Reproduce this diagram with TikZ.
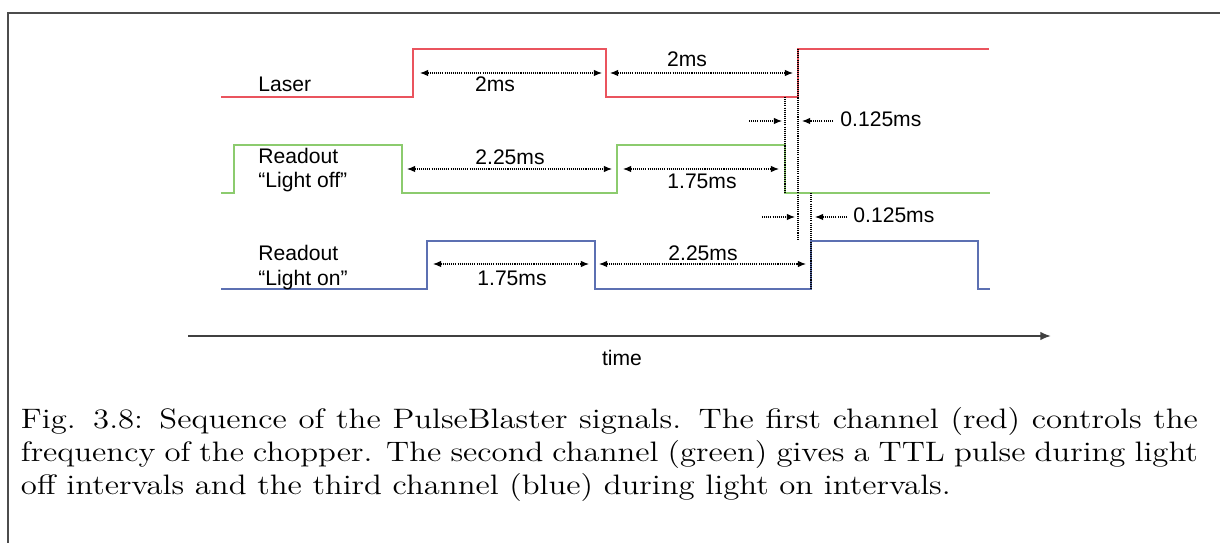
\documentclass[tikz,border=0pt]{standalone}
\usepackage{fontspec}
\newfontfamily\labelfont{Liberation Sans}
\newfontfamily\capfont{lmroman12-regular}[Extension=.otf, FakeStretch=1.165]
\usetikzlibrary{arrows.meta}
\definecolor{sigred}{RGB}{234,84,94}
\definecolor{siggreen}{RGB}{140,203,110}
\definecolor{sigblue}{RGB}{92,112,178}
\begin{document}
\begin{tikzpicture}[x=0.015cm, y=-0.015cm, font=\labelfont\fontsize{9}{10.8}\selectfont,
    >={Latex[length=3.5pt,width=2.8pt]},
    sig/.style={line width=0.85pt},
    dim/.style={line width=0.45pt, dash pattern=on 0.45pt off 0.45pt},
    mark line/.style={line width=0.45pt, dash pattern=on 0.45pt off 0.45pt},
    lab/.style={anchor=base west, inner sep=0pt},
    val/.style={anchor=base, inner sep=0pt},
    axis/.style={line width=0.75pt, black!75, -{Latex[length=4.5pt,width=3.6pt]}}]
  \useasboundingbox (0,0) rectangle (1220,543);
  \draw[black!70, line width=0.8pt] (8,543) -- (8,13) -- (1220,13);
  \draw[sig, sigred] (221,97) -- (413,97) -- (413,49) -- (606,49) -- (606,97) -- (798,97) -- (798,49) -- (989,49);
  \draw[sig, siggreen] (221,193) -- (234,193) -- (234,145) -- (402,145) -- (402,193) -- (617,193) -- (617,145) -- (785,145) -- (785,193) -- (990,193);
  \draw[sig, sigblue] (221,289) -- (427,289) -- (427,241) -- (595,241) -- (595,289) -- (811,289) -- (811,241) -- (978,241) -- (978,289) -- (990,289);
  \node[lab] (laser) at (258,92) {Laser};
  \node[lab] (offa) at (258,164) {Readout};
  \node[lab] (offb) at (258,188) {“Light off”};
  \node[lab] (ona) at (258,261) {Readout};
  \node[lab] (onb) at (258,286) {“Light on”};
  \coordinate (g1) at (785,97);  \coordinate (g2) at (785,193);
  \coordinate (r1) at (798,49);  \coordinate (r2) at (798,240);
  \coordinate (b1) at (811,193); \coordinate (b2) at (811,289);
  \draw[mark line] (g1) -- (g2);
  \draw[mark line] (r1) -- (r2);
  \draw[mark line] (b1) -- (b2);
  \coordinate (l1a) at (420,73); \coordinate (l1b) at (602,73);
  \coordinate (l2a) at (610,73); \coordinate (l2b) at (793,73);
  \coordinate (o1a) at (407,169); \coordinate (o1b) at (612,169);
  \coordinate (o2a) at (623,169); \coordinate (o2b) at (779,169);
  \coordinate (n1a) at (433,264); \coordinate (n1b) at (589,264);
  \coordinate (n2a) at (599,264); \coordinate (n2b) at (806,264);
  \draw[dim, <->] (l1a) -- (l1b);
  \draw[dim, <->] (l2a) -- (l2b);
  \draw[dim, <->] (o1a) -- (o1b);
  \draw[dim, <->] (o2a) -- (o2b);
  \draw[dim, <->] (n1a) -- (n1b);
  \draw[dim, <->] (n2a) -- (n2b);
  \node[val] (l1) at (495,92) {2ms};
  \node[val] (l2) at (687,67) {2ms};
  \node[val] (o1) at (510,165) {2.25ms};
  \node[val] (o2) at (702,189) {1.75ms};
  \node[val] (n1) at (512,286) {1.75ms};
  \node[val] (n2) at (703,261) {2.25ms};
  \coordinate (s1a) at (749,121); \coordinate (s1b) at (782,121);
  \coordinate (s1c) at (833,121); \coordinate (s1d) at (802,121);
  \coordinate (s2a) at (762,217); \coordinate (s2b) at (795,217);
  \coordinate (s2c) at (847,217); \coordinate (s2d) at (815,217);
  \draw[dim, ->] (s1a) -- (s1b);
  \draw[dim, ->] (s1c) -- (s1d);
  \draw[dim, ->] (s2a) -- (s2b);
  \draw[dim, ->] (s2c) -- (s2d);
  \node[lab] (s1) at (840,127) {0.125ms};
  \node[lab] (s2) at (853,223) {0.125ms};
  \coordinate (t0) at (188,336); \coordinate (t1) at (1051,336);
  \draw[axis] (t0) -- (t1);
  \node[val] (time) at (622,366) {time};
  \node[anchor=north west, inner sep=0pt, text width=502.3pt, align=justify,
    font=\capfont\fontsize{12}{14.1}\selectfont] (cap) at (20.5,407)
    {Fig. 3.8: Sequence of the PulseBlaster signals. The first channel (red) controls the\linebreak
     frequency of the chopper. The second channel (green) gives a TTL pulse during light\linebreak
     off intervals and the third channel (blue) during light on intervals.};
\end{tikzpicture}
\end{document}
